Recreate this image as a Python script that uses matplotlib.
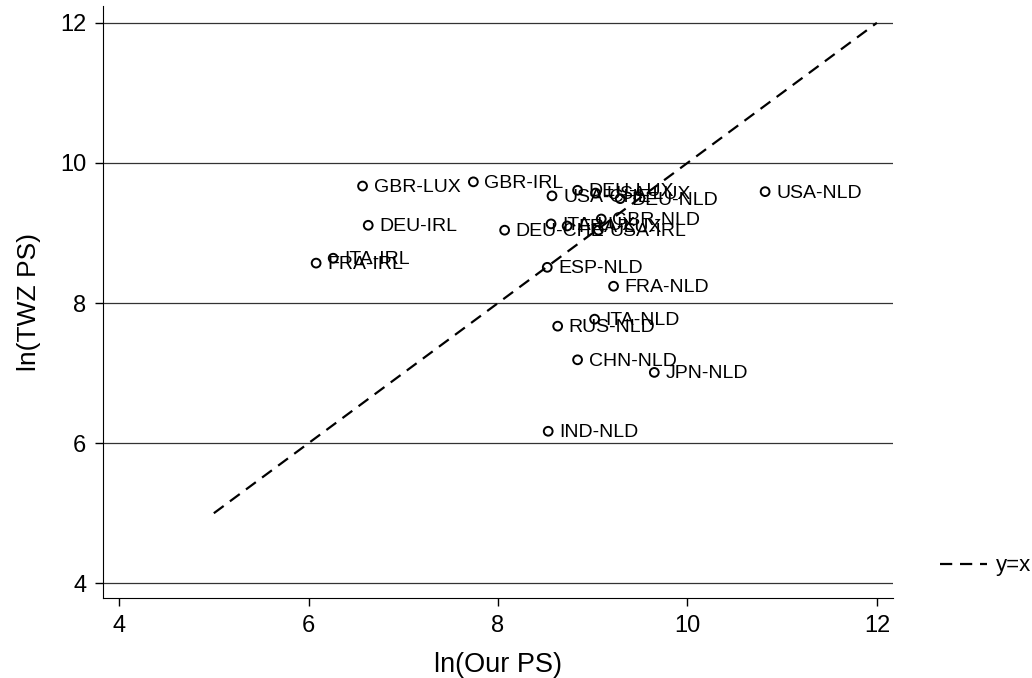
import matplotlib
matplotlib.use("Agg")
import matplotlib.pyplot as plt
from matplotlib.lines import Line2D

plt.rcParams['font.family'] = ['Liberation Sans', 'DejaVu Sans']

labels = ["GBR-LUX", "GBR-IRL", "DEU-IRL", "ITA-IRL", "FRA-IRL", "DEU-CHE",
          "USA-CHE", "DEU-LUX", "USA-LUX", "DEU-NLD", "USA-NLD",
          "ITA-LUX", "FRA-LUX", "GBR-NLD", "USA-IRL",
          "ESP-NLD", "FRA-NLD", "ITA-NLD", "RUS-NLD", "CHN-NLD", "JPN-NLD", "IND-NLD"]
our_ps = [6.57, 7.74, 6.63, 6.26, 6.08, 8.07,
          8.57, 8.84, 9.03, 9.29, 10.82,
          8.56, 8.73, 9.09, 9.06,
          8.52, 9.22, 9.02, 8.63, 8.84, 9.65, 8.53]
twz_ps = [9.67, 9.73, 9.11, 8.64, 8.57, 9.04,
          9.53, 9.61, 9.57, 9.49, 9.59,
          9.13, 9.10, 9.20, 9.04,
          8.51, 8.24, 7.77, 7.67, 7.19, 7.01, 6.17]
diag = [5, 12]
xticks = [4, 6, 8, 10, 12]
yticks = [4, 6, 8, 10, 12]

fig = plt.figure(figsize=(10.32, 6.78), dpi=100)
ax = fig.add_axes([103/1032, 1 - 598/678, (893 - 103)/1032, (598 - 6)/678])

for yt in yticks:
    ax.axhline(yt, color='#333333', lw=0.9, zorder=0)

ax.plot(diag, diag, color='black', lw=1.6, ls=(0, (5.5, 3.5)), zorder=2)
ax.scatter(our_ps, twz_ps, s=40, facecolors='none', edgecolors='black', linewidths=1.4, zorder=3)
for lab, x, y in zip(labels, our_ps, twz_ps):
    ax.annotate(lab, (x, y), xytext=(8, -1), textcoords='offset points',
                va='center', ha='left', fontsize=14, zorder=4)

ax.set_xlim(3.83, 12.17)
ax.set_ylim(3.79, 12.24)
ax.set_xticks(xticks)
ax.set_yticks(yticks)
ax.spines['top'].set_visible(False)
ax.spines['right'].set_visible(False)
ax.tick_params(axis='both', direction='out', length=6, width=1, labelsize=17, pad=6)
ax.set_xlabel("ln(Our PS)", fontsize=19.5, labelpad=11)
ax.set_ylabel("ln(TWZ PS)", fontsize=19, labelpad=14)

handle = Line2D([], [], color='black', lw=1.6, ls=(0, (5.5, 3.5)))
fig.legend([handle], ["y=x"], loc='center left', bbox_to_anchor=(940/1032, 1 - 566/678),
           frameon=False, fontsize=16, handlelength=2.1, handletextpad=0.4, borderaxespad=0,
           borderpad=0)

fig.savefig("out.png", dpi=100)
